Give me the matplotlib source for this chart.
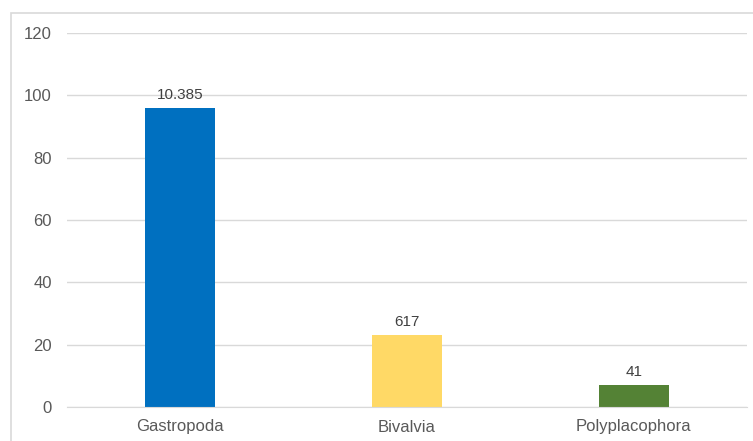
import matplotlib
matplotlib.use("Agg")
import matplotlib.pyplot as plt
from matplotlib.patches import Rectangle

categories = ["Gastropoda", "Bivalvia", "Polyplacophora"]
values = [96, 23, 7]
value_labels = ["10.385", "617", "41"]
colors = ["#0070C0", "#FFD966", "#548235"]
yticks = [0, 20, 40, 60, 80, 100, 120]

plt.rcParams['font.family'] = ['Liberation Sans', 'DejaVu Sans']

fig = plt.figure(figsize=(7.53, 4.41), dpi=100)
fig.patch.set_facecolor("white")

# outer chart border
fig.add_artist(Rectangle((11/753, -0.1), 1.2, (441-13)/441 + 0.1,
                         transform=fig.transFigure, fill=False,
                         edgecolor="#D9D9D9", linewidth=1.2))

ax = fig.add_axes([67/753, (441-407)/441, (747-67)/753, (407-33)/441])
x = range(len(categories))
bars = ax.bar(x, values, width=0.31, color=colors, zorder=3)

for xi, v, lab in zip(x, values, value_labels):
    ax.annotate(lab, (xi, v), xytext=(0, 4.5), textcoords="offset points",
                ha="center", va="bottom", fontsize=11, color="#404040")

ax.set_xlim(-0.5, len(categories) - 0.5)
ax.set_ylim(0, 120)
ax.set_yticks(yticks)
ax.set_xticks(list(x))
ax.set_xticklabels(categories)
ax.grid(axis="y", color="#D9D9D9", linewidth=1, zorder=0)
ax.tick_params(axis="both", length=0, labelsize=12, labelcolor="#595959")
ax.tick_params(axis="y", pad=11)
ax.tick_params(axis="x", pad=9)
for s in ["top", "right", "left"]:
    ax.spines[s].set_visible(False)
ax.spines["bottom"].set_color("#D9D9D9")
ax.spines["bottom"].set_zorder(4)

fig.savefig("out.png", dpi=100)
